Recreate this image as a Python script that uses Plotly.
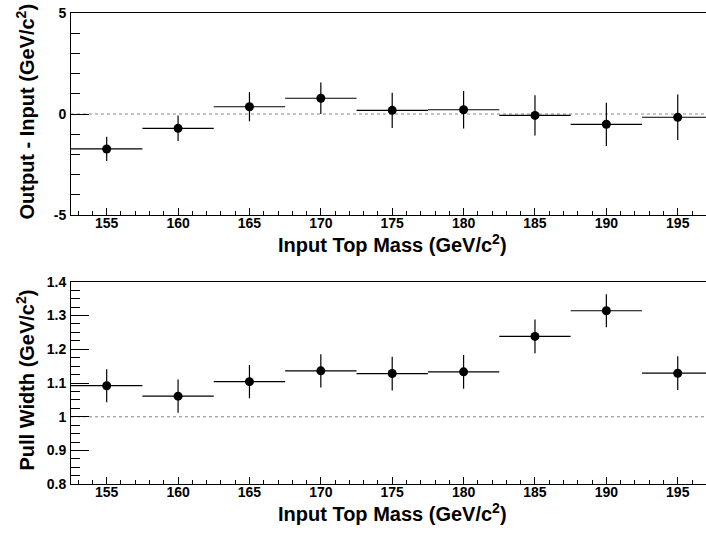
import plotly.graph_objects as go

# ---- data ----
mass = [155, 160, 165, 170, 175, 180, 185, 190, 195]
bin_half_width = [2.5] * 9
diff = [-1.73, -0.71, 0.36, 0.78, 0.18, 0.21, -0.07, -0.51, -0.16]
diff_err = [0.60, 0.63, 0.72, 0.78, 0.87, 0.93, 1.00, 1.07, 1.13]
pull = [1.092, 1.061, 1.104, 1.136, 1.128, 1.133, 1.238, 1.314, 1.129]
pull_err = [0.049, 0.049, 0.049, 0.049, 0.050, 0.050, 0.050, 0.049, 0.050]

top_ticks = [-5, 0, 5]
top_ticktext = ["-5", "0", "5"]
bot_ticks = [0.8, 0.9, 1.0, 1.1, 1.2, 1.3, 1.4]
bot_ticktext = ["0.8", "0.9", "1", "1.1", "1.2", "1.3", "1.4"]
x_ticks = [155, 160, 165, 170, 175, 180, 185, 190, 195]

x_title = "Input Top Mass (GeV/c<sup>2</sup>)"
top_y_title = "Output - Input (GeV/c<sup>2</sup>)"
bot_y_title = "Pull Width (GeV/c<sup>2</sup>)"

ref_top = 0.0
ref_bot = 1.0

FONT = "Liberation Sans, Arial, sans-serif"
W, H = 706, 534

fig = go.Figure()

def add_series(y, yerr, xa, ya):
    fig.add_trace(go.Scatter(
        x=mass, y=y, xaxis=xa, yaxis=ya, mode="markers",
        marker=dict(color="black", size=9, symbol="circle"),
        error_x=dict(type="data", array=bin_half_width, visible=True,
                     color="black", thickness=1.2, width=0),
        error_y=dict(type="data", array=yerr, visible=True,
                     color="black", thickness=1.2, width=0),
        showlegend=False, hoverinfo="x+y",
    ))

add_series(diff, diff_err, "x", "y")
add_series(pull, pull_err, "x2", "y2")

xrange = [152.5, 196.98]
xdom = [71 / W, 1.0]
top_dom = [1 - 215 / H, 1 - 13 / H]
bot_dom = [1 - 484.3 / H, 1 - 281.7 / H]

tickfont = dict(family=FONT, size=14, color="black", weight="bold")
titlefont = dict(family=FONT, size=20, color="black", weight="bold")

xcommon = dict(
    range=xrange, domain=xdom, tickvals=x_ticks,
    ticks="inside", ticklen=7, tickwidth=1, tickcolor="black",
    minor=dict(dtick=1, tick0=0, ticks="inside", ticklen=4, tickcolor="black", tickwidth=1),
    showline=True, linecolor="black", linewidth=1, mirror=True,
    showgrid=False, zeroline=False, tickfont=tickfont,
    ticklabelstandoff=-5,
)
ycommon = dict(
    ticks="inside", ticklen=18, tickwidth=1, tickcolor="black",
    showline=True, linecolor="black", linewidth=1,
    showgrid=False, zeroline=False, tickfont=tickfont,
    ticklabelstandoff=1,
)

def px_y(p):
    return 1 - p / H

fig.update_layout(
    width=W, height=H,
    margin=dict(l=0, r=0, t=0, b=0, pad=0, autoexpand=False),
    paper_bgcolor="white", plot_bgcolor="white",
    xaxis=dict(anchor="y", **xcommon),
    xaxis2=dict(anchor="y2", **xcommon),
    yaxis=dict(anchor="x", domain=top_dom, range=[-5, 5],
               tickvals=top_ticks, ticktext=top_ticktext,
               minor=dict(dtick=1, tick0=0, ticks="inside", ticklen=9, tickcolor="black", tickwidth=1),
               **ycommon),
    yaxis2=dict(anchor="x2", domain=bot_dom, range=[0.8, 1.4],
                tickvals=bot_ticks, ticktext=bot_ticktext,
                minor=dict(dtick=0.025, tick0=0.8, ticks="inside", ticklen=9, tickcolor="black", tickwidth=1),
                **ycommon),
    shapes=[
        dict(type="line", xref="x domain", yref="y", x0=0, x1=1, y0=ref_top, y1=ref_top,
             line=dict(color="#888888", width=1, dash="dot"), layer="below"),
        dict(type="line", xref="x2 domain", yref="y2", x0=0, x1=1, y0=ref_bot, y1=ref_bot,
             line=dict(color="#888888", width=1, dash="dot"), layer="below"),
    ],
    annotations=[
        dict(text=x_title, xref="paper", yref="paper", x=392 / W, y=px_y(243.5),
             xanchor="center", yanchor="middle", showarrow=False, font=titlefont),
        dict(text=x_title, xref="paper", yref="paper", x=392 / W, y=px_y(512.5),
             xanchor="center", yanchor="middle", showarrow=False, font=titlefont),
        dict(text=top_y_title, xref="paper", yref="paper", x=24.5 / W, y=px_y(112),
             xanchor="center", yanchor="middle", textangle=-90, showarrow=False, font=titlefont),
        dict(text=bot_y_title, xref="paper", yref="paper", x=24.5 / W, y=px_y(380),
             xanchor="center", yanchor="middle", textangle=-90, showarrow=False, font=titlefont),
    ],
)

fig.write_html("out.html")
